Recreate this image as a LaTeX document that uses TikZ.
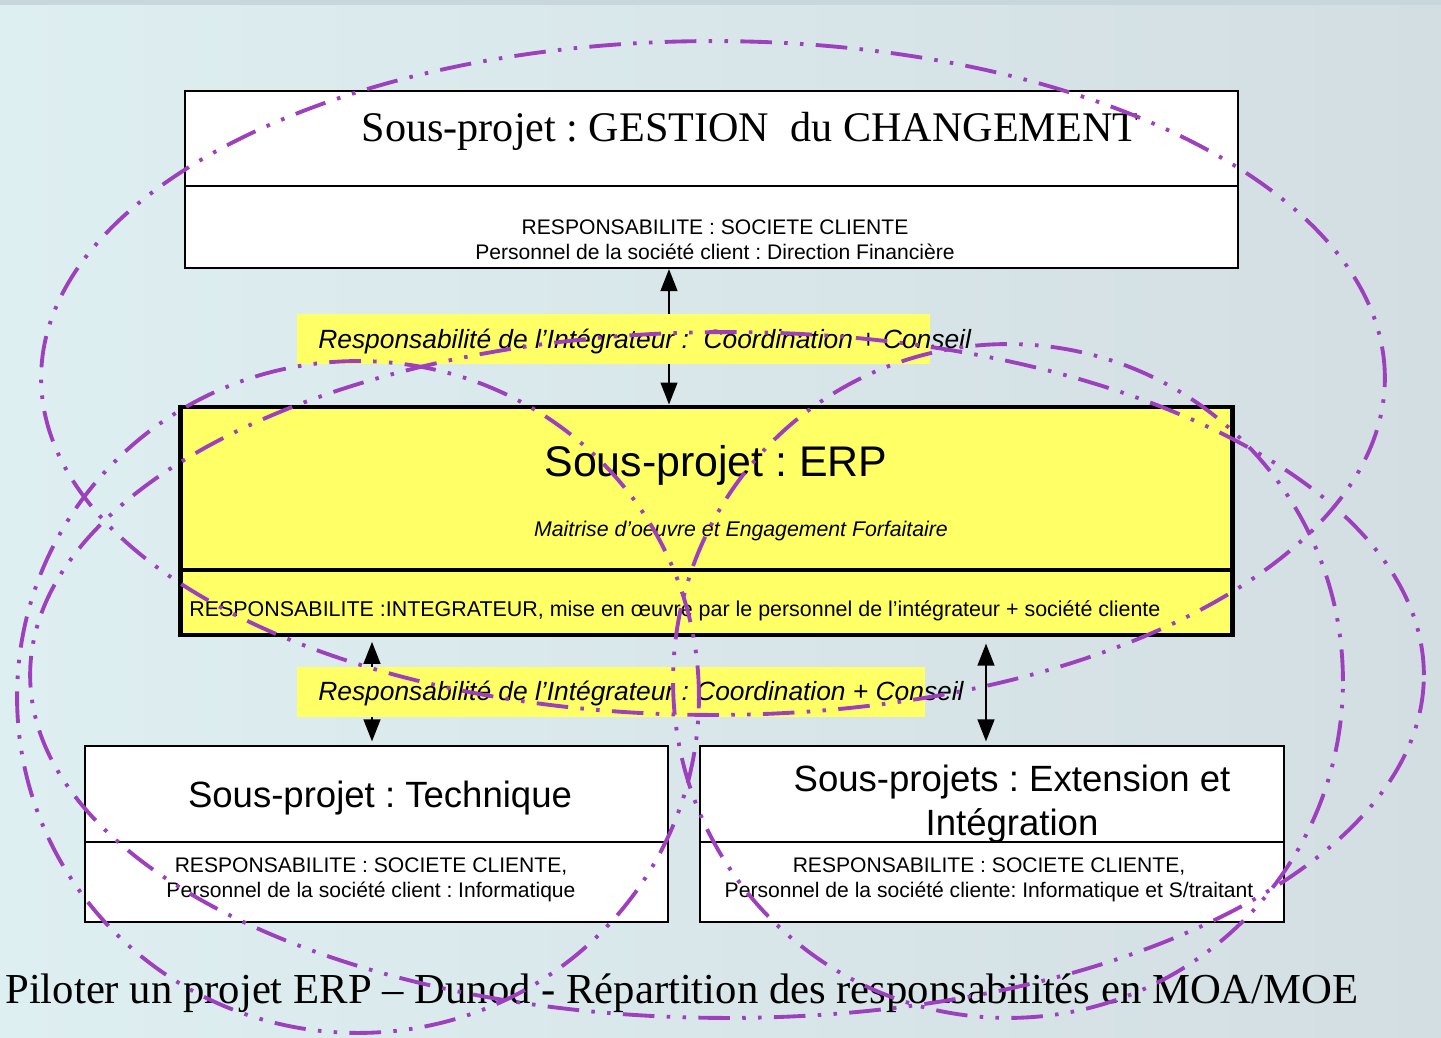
\documentclass[tikz,border=0pt]{standalone}
\usepackage{fontspec}
\setmainfont{Liberation Sans}
\newfontfamily\timesfont{Liberation Serif}
\usepackage{tikz}
\usetikzlibrary{arrows.meta,positioning}
\frenchspacing
\definecolor{erpyellow}{RGB}{255,255,102}
\definecolor{zonepurple}{RGB}{158,64,190}
\definecolor{bgleft}{RGB}{222,239,241}
\definecolor{bgmid}{RGB}{231,247,248}
\definecolor{bgright}{RGB}{211,222,226}
\definecolor{bgtop}{RGB}{200,215,219}
\tikzstyle{cell}=[rectangle,draw=black,line width=1.2pt,fill=white,inner sep=0pt]
\tikzstyle{erpcell}=[rectangle,draw=black,line width=2.8pt,fill=erpyellow,inner sep=0pt,
minimum width=21.06cm]
\tikzstyle{label}=[rectangle,fill=erpyellow,inner sep=0pt,minimum height=1cm]
\tikzstyle{labtext}=[anchor=west,inner sep=0pt,font=\fontsize{15}{18}\selectfont\itshape]
\tikzstyle{small}=[align=center,inner sep=0pt,font=\fontsize{12}{14.2}\selectfont]
\tikzstyle{arrow}=[line width=1.2pt,{Triangle[width=9.5pt,length=12.5pt]}-{Triangle[width=9.5pt,length=12.5pt]}]
\tikzstyle{zone}=[draw=zonepurple,line width=2.2pt,
dash pattern=on 18pt off 7pt on 2pt off 7pt on 2pt off 7pt]

\begin{document}
\begin{tikzpicture}[x=0.02cm,y=-0.02cm]
        \useasboundingbox (0,0) rectangle (1441,1038);
        \shade [left color=bgleft,middle color=bgmid,right color=bgright] (0,0) rectangle (1441,1038);
        \fill [bgtop] (0,0) rectangle (1441,5);

        % boxes
        \node (gestT) [cell,minimum width=21.06cm,minimum height=1.9cm] at (711.5,138.5) {};
        \node (gestB) [cell,minimum width=21.06cm,minimum height=1.64cm] at (711.5,227) {};
        \node (erpT) [erpcell,minimum height=3.26cm] at (706.5,488.5) {};
        \node (erpB) [erpcell,minimum height=1.3cm] at (706.5,602.5) {};
        \node (techT) [cell,minimum width=11.66cm,minimum height=1.92cm] at (376.5,794) {};
        \node (techB) [cell,minimum width=11.66cm,minimum height=1.6cm] at (376.5,882) {};
        \node (extT) [cell,minimum width=11.68cm,minimum height=1.92cm] at (992,794) {};
        \node (extB) [cell,minimum width=11.68cm,minimum height=1.6cm] at (992,882) {};

        % texts
        \node (gestTitle) [inner sep=0pt,font=\timesfont\fontsize{24}{28}\selectfont] at (750,131)
            {Sous-projet : GESTION~ du CHANGEMENT};
        \node (gestText) [small] at (715,239.5)
            {RESPONSABILITE : SOCIETE CLIENTE\\Personnel de la société client : Direction Financière};
        \node (erpTitle) [inner sep=0pt,font=\fontsize{24.4}{28}\selectfont] at (716,465) {Sous-projet : ERP};
        \node (erpSub) [inner sep=0pt,font=\fontsize{12.1}{14}\selectfont\itshape] at (741,531)
            {Maitrise d'oeuvre et Engagement Forfaitaire};
        \node (erpText) [anchor=west,inner sep=0pt,font=\fontsize{12.2}{14}\selectfont] at (189,611)
            {RESPONSABILITE :INTEGRATEUR, mise en œuvre par le personnel de l’intégrateur + société cliente};
        \node (techTitle) [inner sep=0pt,font=\fontsize{20.8}{25}\selectfont] at (380,798) {Sous-projet : Technique};
        \node (techText) [small] at (371,879.5)
            {RESPONSABILITE : SOCIETE CLIENTE,\\Personnel de la société client : Informatique};
        \node (extTitle) [align=center,inner sep=0pt,font=\fontsize{20.8}{25.5}\selectfont] at (1012,804)
            {Sous-projets : Extension et\\Intégration};
        \node (extText) [small] at (989,879.5)
            {RESPONSABILITE : SOCIETE CLIENTE,\\Personnel de la société cliente: Informatique et S/traitant};

        % arrows
        \coordinate (up) at (669,0);
        \coordinate (left) at (372,0);
        \coordinate (right) at (986,0);
        \draw [arrow] (gestB.south -| up) -- (erpT.north -| up);
        \draw [arrow,shorten <=2.5pt,shorten >=2pt] (erpB.south -| left) -- (techT.north -| left);
        \draw [arrow,shorten <=3.5pt,shorten >=2pt] (erpB.south -| right) -- (extT.north -| right);

        % labels
        \node (lab1) [label,minimum width=12.66cm] at (613.5,339) {};
        \node (lab1txt) [labtext] at (318,342) {Responsabilité de l’Intégrateur :~ Coordination + Conseil};
        \node (lab2) [label,minimum width=12.56cm] at (611,692) {};
        \node (lab2txt) [labtext] at (318,694) {Responsabilité de l’Intégrateur : Coordination + Conseil};

        \node (footer) [anchor=west,inner sep=0pt,font=\timesfont\fontsize{24.3}{28}\selectfont] at (5,993)
            {Piloter un projet ERP – Dunod - Répartition des responsabilités en MOA/MOE};

        % zones
        \draw [zone] (713,378) ellipse [x radius=13.44cm,y radius=6.74cm];
        \draw [zone] (358,697) ellipse [x radius=6.82cm,y radius=6.72cm];
        \draw [zone] (1008,681) ellipse [x radius=6.7cm,y radius=6.74cm];
        \draw [zone] (727,675) ellipse [x radius=13.94cm,y radius=6.86cm];

    \end{tikzpicture}
\end{document}
